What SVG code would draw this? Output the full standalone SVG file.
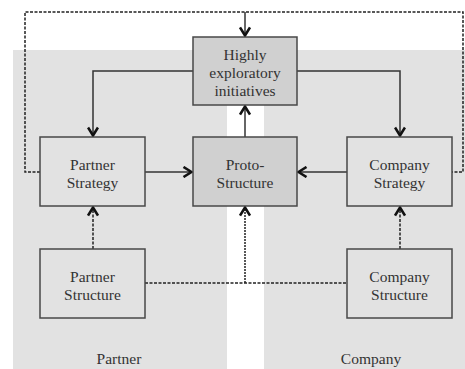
<svg xmlns="http://www.w3.org/2000/svg" width="465" height="369" viewBox="0 0 465 369">
  <style>
    .panel { fill: #e2e2e2; }
    .box { fill: #e2e2e2; stroke: #484848; stroke-width: 1.5; }
    .box.core { fill: #d0d0d0; }
    .lbl { font-family: "Liberation Serif", "Times New Roman", serif; font-size: 15.5px; fill: #333; text-anchor: middle; }
    .solid { fill: none; stroke: #333; stroke-width: 1.5; }
    .dash { fill: none; stroke: #222; stroke-width: 1.5; stroke-dasharray: 3 1.5; }
    .fine { fill: none; stroke: #222; stroke-width: 1.5; stroke-dasharray: 2 1; }
  </style>
  <defs>
    <marker id="arrow" viewBox="0 0 12 12" refX="11" refY="6" markerWidth="12" markerHeight="12" markerUnits="userSpaceOnUse" orient="auto">
      <path d="M2.5,1 L10.5,6 L2.5,11" fill="none" stroke="#111" stroke-width="2.6"/>
    </marker>
  </defs>

  <!-- background columns -->
  <rect class="panel" x="13" y="50" width="214" height="319"/>
  <rect class="panel" x="264" y="50" width="201" height="319"/>

  <!-- connectors -->
  <g id="connectors">
    <!-- strategy feedback loop -->
    <polyline class="dash" points="40,172 25,172 25,12 463,12 463,172 452,172"/>
    <line class="solid" x1="245" y1="12" x2="245" y2="36" marker-end="url(#arrow)"/>
    <!-- initiatives to strategies -->
    <polyline class="solid" points="193,71 93,71 93,136" marker-end="url(#arrow)"/>
    <polyline class="solid" points="297,71 400,71 400,136" marker-end="url(#arrow)"/>
    <!-- strategies to proto-structure -->
    <line class="solid" x1="145" y1="172" x2="192" y2="172" marker-end="url(#arrow)"/>
    <line class="solid" x1="347" y1="172" x2="298" y2="172" marker-end="url(#arrow)"/>
    <line class="solid" x1="245" y1="137" x2="245" y2="106" marker-end="url(#arrow)"/>
    <!-- structures to strategies -->
    <line class="dash" x1="93" y1="249" x2="93" y2="207" marker-end="url(#arrow)"/>
    <line class="dash" x1="400" y1="249" x2="400" y2="207" marker-end="url(#arrow)"/>
    <!-- structures to proto-structure -->
    <line class="dash" x1="145" y1="283" x2="347" y2="283"/>
    <line class="fine" x1="245" y1="283" x2="245" y2="207" marker-end="url(#arrow)"/>
  </g>

  <g id="highly-exploratory">
    <rect class="box core" x="193" y="37" width="104" height="68"/>
    <text class="lbl" x="245" y="60">Highly</text>
    <text class="lbl" x="245" y="78">exploratory</text>
    <text class="lbl" x="245" y="96">initiatives</text>
  </g>

  <g id="partner-strategy">
    <rect class="box" x="40" y="137" width="105" height="69"/>
    <text class="lbl" x="92.5" y="170">Partner</text>
    <text class="lbl" x="92.5" y="188">Strategy</text>
  </g>

  <g id="proto-structure">
    <rect class="box core" x="193" y="137" width="104" height="69"/>
    <text class="lbl" x="245" y="170">Proto-</text>
    <text class="lbl" x="245" y="188">Structure</text>
  </g>

  <g id="company-strategy">
    <rect class="box" x="347" y="137" width="105" height="69"/>
    <text class="lbl" x="399.5" y="170">Company</text>
    <text class="lbl" x="399.5" y="188">Strategy</text>
  </g>

  <g id="partner-structure">
    <rect class="box" x="40" y="249" width="105" height="69"/>
    <text class="lbl" x="92.5" y="282">Partner</text>
    <text class="lbl" x="92.5" y="300">Structure</text>
  </g>

  <g id="company-structure">
    <rect class="box" x="347" y="249" width="105" height="69"/>
    <text class="lbl" x="399.5" y="282">Company</text>
    <text class="lbl" x="399.5" y="300">Structure</text>
  </g>

  <g id="column-labels">
    <text class="lbl" x="119" y="364">Partner</text>
    <text class="lbl" x="371" y="364">Company</text>
  </g>
</svg>
